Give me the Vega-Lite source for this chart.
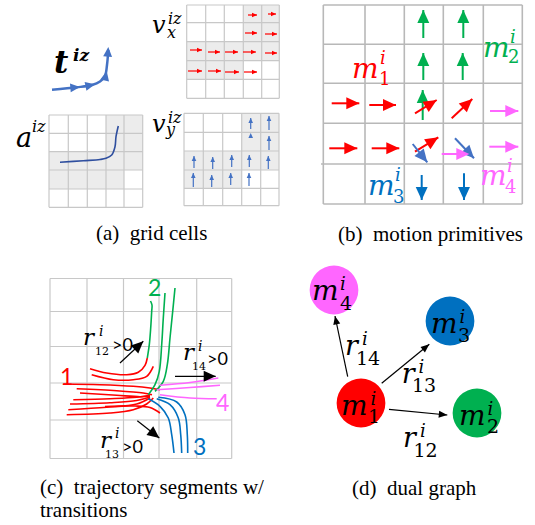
{
"$schema":"https://vega.github.io/schema/vega-lite/v6.json",
"width":535,"height":525,"padding":0,
"autosize":{"type":"fit","contains":"padding"},
"background":"white",
"config":{"view":{"stroke":null}},
"datasets":{
"sh":[
{"x":243.3,"x2":279.3,"y":5,"y2":41.7},{"x":186.7,"x2":279.3,"y":41.7,"y2":60.7},{"x":186.7,"x2":243.3,"y":60.7,"y2":79.3},
{"x":241.7,"x2":279,"y":113.3,"y2":151},{"x":184,"x2":279,"y":151,"y2":170},{"x":184,"x2":241.7,"y":170,"y2":188.3},
{"x":106,"x2":142.7,"y":115,"y2":151.7},{"x":49,"x2":142.7,"y":151.7,"y2":170},{"x":49,"x2":124,"y":170,"y2":189}
],
"gl":[
{"p":"a","x":186.7,"y":5,"x2":186.7,"y2":98.3},{"p":"a","x":205.7,"y":5,"x2":205.7,"y2":98.3},{"p":"a","x":224.3,"y":5,"x2":224.3,"y2":98.3},{"p":"a","x":243.3,"y":5,"x2":243.3,"y2":98.3},{"p":"a","x":261.7,"y":5,"x2":261.7,"y2":98.3},{"p":"a","x":279.3,"y":5,"x2":279.3,"y2":98.3},
{"p":"a","x":186.7,"y":5,"x2":279.3,"y2":5},{"p":"a","x":186.7,"y":22.7,"x2":279.3,"y2":22.7},{"p":"a","x":186.7,"y":41.7,"x2":279.3,"y2":41.7},{"p":"a","x":186.7,"y":60.7,"x2":279.3,"y2":60.7},{"p":"a","x":186.7,"y":79.3,"x2":279.3,"y2":79.3},{"p":"a","x":186.7,"y":98.3,"x2":279.3,"y2":98.3},
{"p":"a","x":184,"y":113.3,"x2":184,"y2":205.7},{"p":"a","x":203.3,"y":113.3,"x2":203.3,"y2":205.7},{"p":"a","x":222.7,"y":113.3,"x2":222.7,"y2":205.7},{"p":"a","x":241.7,"y":113.3,"x2":241.7,"y2":205.7},{"p":"a","x":260.7,"y":113.3,"x2":260.7,"y2":205.7},{"p":"a","x":279,"y":113.3,"x2":279,"y2":205.7},
{"p":"a","x":184,"y":113.3,"x2":279,"y2":113.3},{"p":"a","x":184,"y":132.3,"x2":279,"y2":132.3},{"p":"a","x":184,"y":151,"x2":279,"y2":151},{"p":"a","x":184,"y":170,"x2":279,"y2":170},{"p":"a","x":184,"y":188.3,"x2":279,"y2":188.3},{"p":"a","x":184,"y":205.7,"x2":279,"y2":205.7},
{"p":"a","x":49,"y":115,"x2":49,"y2":207.3},{"p":"a","x":68.3,"y":115,"x2":68.3,"y2":207.3},{"p":"a","x":87.3,"y":115,"x2":87.3,"y2":207.3},{"p":"a","x":106,"y":115,"x2":106,"y2":207.3},{"p":"a","x":124,"y":115,"x2":124,"y2":207.3},{"p":"a","x":142.7,"y":115,"x2":142.7,"y2":207.3},
{"p":"a","x":49,"y":115,"x2":142.7,"y2":115},{"p":"a","x":49,"y":133.3,"x2":142.7,"y2":133.3},{"p":"a","x":49,"y":151.7,"x2":142.7,"y2":151.7},{"p":"a","x":49,"y":170,"x2":142.7,"y2":170},{"p":"a","x":49,"y":189,"x2":142.7,"y2":189},{"p":"a","x":49,"y":207.3,"x2":142.7,"y2":207.3},
{"p":"b","x":323.3,"y":5,"x2":323.3,"y2":204},{"p":"b","x":365,"y":5,"x2":365,"y2":204},{"p":"b","x":404.3,"y":5,"x2":404.3,"y2":204},{"p":"b","x":443.3,"y":5,"x2":443.3,"y2":204},{"p":"b","x":483.3,"y":5,"x2":483.3,"y2":204},{"p":"b","x":522.3,"y":5,"x2":522.3,"y2":204},
{"p":"b","x":323.3,"y":5,"x2":522.3,"y2":5},{"p":"b","x":323.3,"y":44.3,"x2":522.3,"y2":44.3},{"p":"b","x":323.3,"y":83.3,"x2":522.3,"y2":83.3},{"p":"b","x":323.3,"y":123.3,"x2":522.3,"y2":123.3},{"p":"b","x":321,"y":164,"x2":522.3,"y2":164},{"p":"b","x":323.3,"y":204,"x2":522.3,"y2":204},
{"p":"c","x":50,"y":278.5,"x2":50,"y2":458.5},{"p":"c","x":87,"y":278.5,"x2":87,"y2":458.5},{"p":"c","x":123.5,"y":278.5,"x2":123.5,"y2":458.5},{"p":"c","x":159,"y":278.5,"x2":159,"y2":458.5},{"p":"c","x":196.7,"y":278.5,"x2":196.7,"y2":458.5},{"p":"c","x":231.7,"y":278.5,"x2":231.7,"y2":458.5},
{"p":"c","x":50,"y":278.5,"x2":231.7,"y2":278.5},{"p":"c","x":50,"y":311.5,"x2":231.7,"y2":311.5},{"p":"c","x":50,"y":346.5,"x2":231.7,"y2":346.5},{"p":"c","x":50,"y":383,"x2":231.7,"y2":383},{"p":"c","x":50,"y":420,"x2":231.7,"y2":420},{"p":"c","x":50,"y":458.5,"x2":231.7,"y2":458.5}
],
"ln":[
{"id":"t","o":1,"x":52,"y":89.7,"c":"bl"},{"id":"t","o":2,"x":77,"y":87.3,"c":"bl"},{"id":"t","o":3,"x":92,"y":85,"c":"bl"},{"id":"t","o":4,"x":100,"y":81.5,"c":"bl"},{"id":"t","o":5,"x":105,"y":76,"c":"bl"},{"id":"t","o":6,"x":107,"y":65,"c":"bl"},{"id":"t","o":7,"x":108.3,"y":50,"c":"bl"},
{"id":"a","o":1,"x":60,"y":162.3,"c":"ad"},{"id":"a","o":2,"x":83.3,"y":160.7,"c":"ad"},{"id":"a","o":3,"x":100,"y":159.5,"c":"ad"},{"id":"a","o":4,"x":106,"y":158.3,"c":"ad"},{"id":"a","o":5,"x":111.7,"y":155,"c":"ad"},{"id":"a","o":6,"x":115,"y":146.7,"c":"ad"},{"id":"a","o":7,"x":116,"y":136.7,"c":"ad"},{"id":"a","o":8,"x":118.3,"y":126,"c":"ad"},
{"id":"R1","o":1,"x":90,"y":368.7,"c":"r"},{"id":"R1","o":2,"x":106.7,"y":373,"c":"r"},{"id":"R1","o":3,"x":126.7,"y":374.7,"c":"r"},{"id":"R1","o":4,"x":138.3,"y":372.3,"c":"r"},{"id":"R1","o":5,"x":145,"y":365.3,"c":"r"},{"id":"R1","o":6,"x":147.3,"y":358,"c":"r"},
{"id":"R2","o":1,"x":91.7,"y":374.7,"c":"r"},{"id":"R2","o":2,"x":113.3,"y":379.7,"c":"r"},{"id":"R2","o":3,"x":133.3,"y":379.7,"c":"r"},{"id":"R2","o":4,"x":146.7,"y":376.3,"c":"r"},{"id":"R2","o":5,"x":153.3,"y":366.3,"c":"r"},
{"id":"R3","o":1,"x":63.3,"y":384,"c":"r"},{"id":"R3","o":2,"x":100,"y":384.7,"c":"r"},{"id":"R3","o":3,"x":133.3,"y":386.3,"c":"r"},{"id":"R3","o":4,"x":150,"y":388,"c":"r"},{"id":"R3","o":5,"x":160,"y":389.7,"c":"r"},
{"id":"R4","o":1,"x":76.7,"y":388.7,"c":"r"},{"id":"R4","o":2,"x":116.7,"y":390.7,"c":"r"},{"id":"R4","o":3,"x":143.3,"y":393,"c":"r"},{"id":"R4","o":4,"x":152,"y":394.7,"c":"r"},
{"id":"R5","o":1,"x":80,"y":393,"c":"r"},{"id":"R5","o":2,"x":116.7,"y":395.3,"c":"r"},{"id":"R5","o":3,"x":140,"y":396.7,"c":"r"},{"id":"R5","o":4,"x":150,"y":396.3,"c":"r"},
{"id":"R6","o":1,"x":73.3,"y":399.7,"c":"r"},{"id":"R6","o":2,"x":110,"y":398.7,"c":"r"},{"id":"R6","o":3,"x":136.7,"y":397.3,"c":"r"},{"id":"R6","o":4,"x":150,"y":395.3,"c":"r"},
{"id":"R7","o":1,"x":70,"y":404,"c":"r"},{"id":"R7","o":2,"x":110,"y":402.7,"c":"r"},{"id":"R7","o":3,"x":136.7,"y":400.5,"c":"r"},{"id":"R7","o":4,"x":150,"y":397,"c":"r"},
{"id":"R8","o":1,"x":68.3,"y":409.7,"c":"r"},{"id":"R8","o":2,"x":106.7,"y":407.3,"c":"r"},{"id":"R8","o":3,"x":136.7,"y":404,"c":"r"},{"id":"R8","o":4,"x":150,"y":398,"c":"r"},
{"id":"R9","o":1,"x":66.7,"y":414.7,"c":"r"},{"id":"R9","o":2,"x":110,"y":413,"c":"r"},{"id":"R9","o":3,"x":133.3,"y":409.7,"c":"r"},{"id":"R9","o":4,"x":146.7,"y":404,"c":"r"},{"id":"R9","o":5,"x":153.3,"y":398,"c":"r"},
{"id":"R10","o":1,"x":105,"y":406.5,"c":"r"},{"id":"R10","o":2,"x":135,"y":406,"c":"r"},{"id":"R10","o":3,"x":150,"y":407.5,"c":"r"},{"id":"R10","o":4,"x":160,"y":413,"c":"r"},
{"id":"G1","o":1,"x":147.3,"y":358,"c":"g"},{"id":"G1","o":2,"x":149.3,"y":344.7,"c":"g"},{"id":"G1","o":3,"x":150.7,"y":328,"c":"g"},{"id":"G1","o":4,"x":151.7,"y":311.3,"c":"g"},{"id":"G1","o":5,"x":152,"y":305,"c":"g"},{"id":"G1","o":6,"x":150.5,"y":301,"c":"g"},
{"id":"G2","o":1,"x":148.3,"y":394.7,"c":"g"},{"id":"G2","o":2,"x":155,"y":384.7,"c":"g"},{"id":"G2","o":3,"x":159.3,"y":371.3,"c":"g"},{"id":"G2","o":4,"x":161.7,"y":344.7,"c":"g"},{"id":"G2","o":5,"x":163.3,"y":318,"c":"g"},{"id":"G2","o":6,"x":165,"y":293,"c":"g"},
{"id":"G3","o":1,"x":155,"y":391.3,"c":"g"},{"id":"G3","o":2,"x":163.3,"y":381.3,"c":"g"},{"id":"G3","o":3,"x":167.3,"y":364.7,"c":"g"},{"id":"G3","o":4,"x":170,"y":338,"c":"g"},{"id":"G3","o":5,"x":172.7,"y":311.3,"c":"g"},{"id":"G3","o":6,"x":175,"y":288,"c":"g"},
{"id":"M1","o":1,"x":160,"y":385.3,"c":"m"},{"id":"M1","o":2,"x":190,"y":382.5,"c":"m"},{"id":"M1","o":3,"x":218.3,"y":378,"c":"m"},
{"id":"M2","o":1,"x":156.7,"y":389.7,"c":"m"},{"id":"M2","o":2,"x":190,"y":387.5,"c":"m"},{"id":"M2","o":3,"x":220,"y":385.3,"c":"m"},
{"id":"M3","o":1,"x":160,"y":394.7,"c":"m"},{"id":"M3","o":2,"x":190,"y":398,"c":"m"},{"id":"M3","o":3,"x":216.7,"y":398.7,"c":"m"},
{"id":"B1","o":1,"x":148.3,"y":398.7,"c":"b"},{"id":"B1","o":2,"x":160,"y":406.3,"c":"b"},{"id":"B1","o":3,"x":168.3,"y":418,"c":"b"},{"id":"B1","o":4,"x":171.7,"y":434.7,"c":"b"},{"id":"B1","o":5,"x":174,"y":453,"c":"b"},
{"id":"B2","o":1,"x":156.7,"y":398.7,"c":"b"},{"id":"B2","o":2,"x":170,"y":404.7,"c":"b"},{"id":"B2","o":3,"x":178.3,"y":418,"c":"b"},{"id":"B2","o":4,"x":180.7,"y":434.7,"c":"b"},{"id":"B2","o":5,"x":181.7,"y":453,"c":"b"},
{"id":"B3","o":1,"x":158.3,"y":397.3,"c":"b"},{"id":"B3","o":2,"x":176.7,"y":402,"c":"b"},{"id":"B3","o":3,"x":185,"y":414.7,"c":"b"},{"id":"B3","o":4,"x":187.3,"y":434.7,"c":"b"},{"id":"B3","o":5,"x":187.7,"y":453,"c":"b"}
],
"ar":[
{"p":"as","x":257,"y":15,"xs":248,"ys":15,"ang":90,"c":"r"},{"p":"as","x":276,"y":14,"xs":268,"ys":14,"ang":90,"c":"r"},
{"p":"as","x":257,"y":33,"xs":245,"ys":33,"ang":90,"c":"r"},{"p":"as","x":277,"y":34,"xs":265,"ys":34,"ang":90,"c":"r"},
{"p":"as","x":202,"y":50,"xs":190,"ys":50,"ang":90,"c":"r"},{"p":"as","x":220,"y":52,"xs":208,"ys":52,"ang":90,"c":"r"},{"p":"as","x":238,"y":52,"xs":225,"ys":52,"ang":90,"c":"r"},{"p":"as","x":256,"y":52,"xs":243,"ys":52,"ang":90,"c":"r"},{"p":"as","x":277,"y":53,"xs":265,"ys":53,"ang":90,"c":"r"},
{"p":"as","x":202,"y":71,"xs":188,"ys":71,"ang":90,"c":"r"},{"p":"as","x":221,"y":71,"xs":208,"ys":71,"ang":90,"c":"r"},{"p":"as","x":239,"y":72,"xs":225,"ys":72,"ang":90,"c":"r"},{"p":"as","x":257,"y":72,"xs":244,"ys":72,"ang":90,"c":"r"},
{"p":"as","x":250.7,"y":118,"xs":250.7,"ys":129,"ang":0,"c":"bl"},{"p":"as","x":269,"y":116,"xs":269,"ys":130,"ang":0,"c":"bl"},{"p":"as","x":250.7,"y":133,"xs":250.7,"ys":133,"ang":0,"c":"bl"},{"p":"as","x":269,"y":136,"xs":269,"ys":150,"ang":0,"c":"bl"},
{"p":"as","x":194,"y":156,"xs":194,"ys":168,"ang":0,"c":"bl"},{"p":"as","x":212.7,"y":157,"xs":212.7,"ys":169,"ang":0,"c":"bl"},{"p":"as","x":231.7,"y":155,"xs":231.7,"ys":167,"ang":0,"c":"bl"},{"p":"as","x":249.3,"y":155,"xs":249.3,"ys":167,"ang":0,"c":"bl"},{"p":"as","x":268.3,"y":156,"xs":268.3,"ys":169,"ang":0,"c":"bl"},
{"p":"as","x":193.3,"y":173,"xs":193.3,"ys":187,"ang":0,"c":"bl"},{"p":"as","x":211.7,"y":175,"xs":211.7,"ys":187,"ang":0,"c":"bl"},{"p":"as","x":230.7,"y":173,"xs":230.7,"ys":185,"ang":0,"c":"bl"},{"p":"as","x":249,"y":173,"xs":249,"ys":186,"ang":0,"c":"bl"},
{"p":"at","x":80,"y":87,"xs":80,"ys":87,"ang":85,"c":"bl"},{"p":"at","x":95,"y":84.3,"xs":95,"ys":84.3,"ang":78,"c":"bl"},{"p":"at","x":106.7,"y":71,"xs":106.7,"ys":71,"ang":12,"c":"bl"},{"p":"at","x":108.3,"y":47,"xs":108.3,"ys":47,"ang":4,"c":"bl"},
{"p":"b","x":423.3,"y":10,"xs":423.3,"ys":38,"ang":0,"c":"g"},{"p":"b","x":463.3,"y":10,"xs":463.3,"ys":38,"ang":0,"c":"g"},{"p":"b","x":423.3,"y":53,"xs":423.3,"ys":80,"ang":0,"c":"g"},{"p":"b","x":462.7,"y":53,"xs":462.7,"ys":80,"ang":0,"c":"g"},{"p":"b","x":422.7,"y":90,"xs":422.7,"ys":120,"ang":0,"c":"g"},
{"p":"b","x":359.3,"y":103.3,"xs":331.7,"ys":103.3,"ang":90,"c":"r"},{"p":"b","x":396,"y":105,"xs":369.3,"ys":105,"ang":90,"c":"r"},{"p":"b","x":357.3,"y":148.3,"xs":329.3,"ys":148.3,"ang":90,"c":"r"},{"p":"b","x":399.3,"y":148.3,"xs":371.7,"ys":148.3,"ang":90,"c":"r"},
{"p":"b","x":436.7,"y":100,"xs":415,"ys":113.3,"ang":58.5,"c":"r"},{"p":"b","x":472.3,"y":99,"xs":451.7,"ys":118.3,"ang":47,"c":"r"},{"p":"b","x":438.3,"y":137.3,"xs":415,"ys":151.7,"ang":58,"c":"r"},
{"p":"b","x":427.3,"y":162.3,"xs":412.7,"ys":144,"ang":141,"c":"bl"},{"p":"b","x":474,"y":158.3,"xs":455,"ys":138.3,"ang":136.5,"c":"bl"},
{"p":"b","x":421.7,"y":200,"xs":421.7,"ys":175,"ang":180,"c":"b"},{"p":"b","x":464,"y":200,"xs":464,"ys":173.3,"ang":180,"c":"b"},
{"p":"b","x":518.3,"y":111,"xs":490,"ys":111,"ang":90,"c":"m"},{"p":"b","x":518.3,"y":146.7,"xs":489.3,"ys":146.7,"ang":90,"c":"m"},{"p":"b","x":469.3,"y":154,"xs":441.7,"ys":154,"ang":90,"c":"m"},
{"p":"c","x":143.3,"y":341.3,"xs":120,"ys":363,"ang":47,"c":"k"},{"p":"c","x":215.7,"y":376.3,"xs":175,"ys":376.3,"ang":90,"c":"k"},{"p":"c","x":159.3,"y":438,"xs":137.3,"ys":420.7,"ang":128,"c":"k"},
{"p":"d","x":335,"y":316,"xs":347.7,"ys":376.7,"ang":-12,"c":"k"},{"p":"d","x":429.3,"y":344.3,"xs":381.7,"ys":383.3,"ang":51,"c":"k"},{"p":"d","x":447.3,"y":415,"xs":389,"ys":409.3,"ang":95.6,"c":"k"}
],
"ci":[
{"x":334,"y":290,"c":"m"},{"x":450,"y":321,"c":"b"},{"x":361,"y":403,"c":"r"},{"x":477,"y":413,"c":"g"}
],
"tx":[
{"k":"tb","x":54,"y":73,"t":"t","c":"k"},{"k":"tbs","x":73,"y":61,"t":"iz","c":"k"},
{"k":"av","x":152,"y":33,"t":"v","c":"k"},{"k":"as","x":168,"y":24,"t":"iz","c":"k"},{"k":"as","x":167,"y":38,"t":"x","c":"k"},
{"k":"av","x":152,"y":131.5,"t":"v","c":"k"},{"k":"as","x":168,"y":123,"t":"iz","c":"k"},{"k":"as","x":166,"y":135,"t":"y","c":"k"},
{"k":"aa","x":16,"y":146.5,"t":"a","c":"k"},{"k":"as","x":32,"y":131.5,"t":"iz","c":"k"},
{"k":"bm","x":352,"y":78.3,"t":"m","c":"r"},{"k":"bs","x":380,"y":64,"t":"i","c":"r"},{"k":"bd","x":379,"y":85,"t":"1","c":"r"},
{"k":"bm","x":483,"y":56.7,"t":"m","c":"g"},{"k":"bs","x":510,"y":43,"t":"i","c":"g"},{"k":"bd","x":508,"y":63.3,"t":"2","c":"g"},
{"k":"bm","x":368,"y":195,"t":"m","c":"b"},{"k":"bs","x":395,"y":181,"t":"i","c":"b"},{"k":"bd","x":393,"y":203,"t":"3","c":"b"},
{"k":"bm","x":480,"y":185,"t":"m","c":"m"},{"k":"bs","x":507,"y":172,"t":"i","c":"m"},{"k":"bd","x":505,"y":193,"t":"4","c":"m"},
{"k":"cn","x":60,"y":384.5,"t":"1","c":"r"},{"k":"cn","x":148,"y":296,"t":"2","c":"g"},{"k":"cn","x":193,"y":455,"t":"3","c":"b"},{"k":"cn","x":216,"y":411,"t":"4","c":"m"},
{"k":"cr","x":83,"y":345,"t":"r","c":"k"},{"k":"cs","x":99,"y":336,"t":"i","c":"k"},{"k":"cd","x":95,"y":355,"t":"12","c":"k"},{"k":"cg","x":112,"y":351,"t":">0","c":"k"},
{"k":"cr","x":183,"y":360,"t":"r","c":"k"},{"k":"cs","x":198,"y":351,"t":"i","c":"k"},{"k":"cd","x":192,"y":370,"t":"14","c":"k"},{"k":"cg","x":207,"y":365,"t":">0","c":"k"},
{"k":"cr","x":100,"y":448,"t":"r","c":"k"},{"k":"cs","x":115,"y":438,"t":"i","c":"k"},{"k":"cd","x":105,"y":458,"t":"13","c":"k"},{"k":"cg","x":122,"y":453,"t":">0","c":"k"},
{"k":"dm","x":341,"y":415,"t":"m","c":"k"},{"k":"ds","x":370.5,"y":405,"t":"i","c":"k"},{"k":"dd","x":368,"y":423,"t":"1","c":"k"},
{"k":"dm","x":312,"y":300,"t":"m","c":"k"},{"k":"ds","x":340,"y":290,"t":"i","c":"k"},{"k":"dd","x":340,"y":310,"t":"4","c":"k"},
{"k":"dm","x":431,"y":333,"t":"m","c":"k"},{"k":"ds","x":459.5,"y":323,"t":"i","c":"k"},{"k":"dd","x":458,"y":341.5,"t":"3","c":"k"},
{"k":"dm","x":459,"y":425,"t":"m","c":"k"},{"k":"ds","x":487.5,"y":415,"t":"i","c":"k"},{"k":"dd","x":487,"y":433,"t":"2","c":"k"},
{"k":"dr","x":345,"y":355,"t":"r","c":"k"},{"k":"ds","x":362,"y":345,"t":"i","c":"k"},{"k":"dd","x":356,"y":365,"t":"14","c":"k"},
{"k":"dr","x":401.7,"y":383.3,"t":"r","c":"k"},{"k":"ds","x":418.5,"y":373,"t":"i","c":"k"},{"k":"dd","x":412,"y":391.7,"t":"13","c":"k"},
{"k":"dr","x":403,"y":446.7,"t":"r","c":"k"},{"k":"ds","x":420,"y":436.7,"t":"i","c":"k"},{"k":"dd","x":413.5,"y":456.7,"t":"12","c":"k"},
{"k":"cap","x":96,"y":240,"t":"(a)\u00a0 grid cells","c":"k"},
{"k":"cap","x":338,"y":241,"t":"(b)\u00a0 motion primitives","c":"k"},
{"k":"cap","x":40,"y":494,"t":"(c)\u00a0 trajectory segments w/","c":"k"},
{"k":"cap","x":40,"y":517,"t":"transitions","c":"k"},
{"k":"cap","x":352,"y":495,"t":"(d)\u00a0 dual graph","c":"k"}
]
},
"encoding":{
"x":{"field":"x","type":"quantitative","scale":{"domain":[0,535],"nice":false,"zero":false},"axis":null},
"y":{"field":"y","type":"quantitative","scale":{"domain":[0,525],"nice":false,"zero":false,"reverse":true},"axis":null},
"color":{"field":"c","type":"nominal","scale":{"domain":["k","r","g","b","m","bl","ad"],"range":["#000000","#ff0000","#00b050","#0070c0","#ff66ff","#4472c4","#2f4f9f"]},"legend":null}
},
"layer":[
{"data":{"name":"sh"},"mark":{"type":"rect","fill":"#ececec"},"encoding":{"x2":{"field":"x2"},"y2":{"field":"y2"},"color":{"value":"#ececec"}}},
{"data":{"name":"gl"},"transform":[{"filter":"datum.p!=='b'"}],"mark":{"type":"rule","strokeWidth":1.2},"encoding":{"x2":{"field":"x2"},"y2":{"field":"y2"},"color":{"value":"#c8c8c8"}}},
{"data":{"name":"gl"},"transform":[{"filter":"datum.p==='b'"}],"mark":{"type":"rule","strokeWidth":1.6},"encoding":{"x2":{"field":"x2"},"y2":{"field":"y2"},"color":{"value":"#b8b8b8"}}},
{"data":{"name":"ln"},"transform":[{"filter":"datum.id!=='t'"}],"mark":{"type":"line","interpolate":"catmull-rom","strokeWidth":1.6},"encoding":{"detail":{"field":"id"},"order":{"field":"o","type":"quantitative"}}},
{"data":{"name":"ln"},"transform":[{"filter":"datum.id==='t'"}],"mark":{"type":"line","interpolate":"catmull-rom","strokeWidth":2.5},"encoding":{"detail":{"field":"id"},"order":{"field":"o","type":"quantitative"}}},
{"data":{"name":"ar"},"transform":[{"filter":"datum.p!=='b'"}],"mark":{"type":"rule","strokeWidth":1.2},"encoding":{"x2":{"field":"xs"},"y2":{"field":"ys"}}},
{"data":{"name":"ar"},"transform":[{"filter":"datum.p==='b'"}],"mark":{"type":"rule","strokeWidth":2},"encoding":{"x2":{"field":"xs"},"y2":{"field":"ys"}}},
{"data":{"name":"ar"},"transform":[{"filter":"datum.p==='as'"}],"mark":{"type":"point","shape":"M0,0L0.55,1.2L-0.55,1.2Z","filled":true,"opacity":1,"size":70,"strokeWidth":0},"encoding":{"angle":{"field":"ang","type":"quantitative","scale":null}}},
{"data":{"name":"ar"},"transform":[{"filter":"datum.p==='at'"}],"mark":{"type":"point","shape":"M0,0L0.55,1.2L-0.55,1.2Z","filled":true,"opacity":1,"size":260,"strokeWidth":0},"encoding":{"angle":{"field":"ang","type":"quantitative","scale":null}}},
{"data":{"name":"ar"},"transform":[{"filter":"datum.p==='b'"}],"mark":{"type":"point","shape":"M0,0L0.55,1.2L-0.55,1.2Z","filled":true,"opacity":1,"size":470,"strokeWidth":0},"encoding":{"angle":{"field":"ang","type":"quantitative","scale":null}}},
{"data":{"name":"ar"},"transform":[{"filter":"datum.p==='c'"}],"mark":{"type":"point","shape":"M0,0L0.55,1.2L-0.55,1.2Z","filled":true,"opacity":1,"size":400,"strokeWidth":0},"encoding":{"angle":{"field":"ang","type":"quantitative","scale":null}}},
{"data":{"name":"ar"},"transform":[{"filter":"datum.p==='d'"}],"mark":{"type":"point","shape":"M0,0L0.5,1.2L-0.5,1.2Z","filled":true,"opacity":1,"size":200,"strokeWidth":0},"encoding":{"angle":{"field":"ang","type":"quantitative","scale":null}}},
{"data":{"name":"ci"},"mark":{"type":"point","shape":"circle","filled":true,"opacity":1,"size":2376,"strokeWidth":0}},
{"data":{"name":"tx"},"transform":[{"filter":"datum.k==='tb'"}],"mark":{"type":"text","align":"left","baseline":"alphabetic","font":"DejaVu Serif","fontStyle":"italic","fontWeight":"bold","fontSize":31},"encoding":{"text":{"field":"t"}}},
{"data":{"name":"tx"},"transform":[{"filter":"datum.k==='tbs'"}],"mark":{"type":"text","align":"left","baseline":"alphabetic","font":"DejaVu Serif","fontStyle":"italic","fontWeight":"bold","fontSize":17},"encoding":{"text":{"field":"t"}}},
{"data":{"name":"tx"},"transform":[{"filter":"datum.k==='av'"}],"mark":{"type":"text","align":"left","baseline":"alphabetic","font":"DejaVu Serif","fontStyle":"italic","fontSize":24},"encoding":{"text":{"field":"t"}}},
{"data":{"name":"tx"},"transform":[{"filter":"datum.k==='aa'"}],"mark":{"type":"text","align":"left","baseline":"alphabetic","font":"DejaVu Serif","fontStyle":"italic","fontSize":27},"encoding":{"text":{"field":"t"}}},
{"data":{"name":"tx"},"transform":[{"filter":"datum.k==='as'"}],"mark":{"type":"text","align":"left","baseline":"alphabetic","font":"DejaVu Serif","fontStyle":"italic","fontSize":16},"encoding":{"text":{"field":"t"}}},
{"data":{"name":"tx"},"transform":[{"filter":"datum.k==='bm'"}],"mark":{"type":"text","align":"left","baseline":"alphabetic","font":"DejaVu Serif","fontStyle":"italic","fontSize":28},"encoding":{"text":{"field":"t"}}},
{"data":{"name":"tx"},"transform":[{"filter":"datum.k==='bs'"}],"mark":{"type":"text","align":"left","baseline":"alphabetic","font":"DejaVu Serif","fontStyle":"italic","fontSize":18},"encoding":{"text":{"field":"t"}}},
{"data":{"name":"tx"},"transform":[{"filter":"datum.k==='bd'"}],"mark":{"type":"text","align":"left","baseline":"alphabetic","font":"DejaVu Serif","fontSize":18},"encoding":{"text":{"field":"t"}}},
{"data":{"name":"tx"},"transform":[{"filter":"datum.k==='cn'"}],"mark":{"type":"text","align":"left","baseline":"alphabetic","font":"Lato","fontSize":23},"encoding":{"text":{"field":"t"}}},
{"data":{"name":"tx"},"transform":[{"filter":"datum.k==='cr'"}],"mark":{"type":"text","align":"left","baseline":"alphabetic","font":"DejaVu Serif","fontStyle":"italic","fontSize":23},"encoding":{"text":{"field":"t"}}},
{"data":{"name":"tx"},"transform":[{"filter":"datum.k==='cs'"}],"mark":{"type":"text","align":"left","baseline":"alphabetic","font":"DejaVu Serif","fontStyle":"italic","fontSize":14},"encoding":{"text":{"field":"t"}}},
{"data":{"name":"tx"},"transform":[{"filter":"datum.k==='cd'"}],"mark":{"type":"text","align":"left","baseline":"alphabetic","font":"DejaVu Serif","fontSize":11},"encoding":{"text":{"field":"t"}}},
{"data":{"name":"tx"},"transform":[{"filter":"datum.k==='cg'"}],"mark":{"type":"text","align":"left","baseline":"alphabetic","font":"Lato","fontSize":18},"encoding":{"text":{"field":"t"}}},
{"data":{"name":"tx"},"transform":[{"filter":"datum.k==='dm'"}],"mark":{"type":"text","align":"left","baseline":"alphabetic","font":"DejaVu Serif","fontStyle":"italic","fontSize":28},"encoding":{"text":{"field":"t"}}},
{"data":{"name":"tx"},"transform":[{"filter":"datum.k==='dr'"}],"mark":{"type":"text","align":"left","baseline":"alphabetic","font":"DejaVu Serif","fontStyle":"italic","fontSize":27},"encoding":{"text":{"field":"t"}}},
{"data":{"name":"tx"},"transform":[{"filter":"datum.k==='ds'"}],"mark":{"type":"text","align":"left","baseline":"alphabetic","font":"DejaVu Serif","fontStyle":"italic","fontSize":18},"encoding":{"text":{"field":"t"}}},
{"data":{"name":"tx"},"transform":[{"filter":"datum.k==='dd'"}],"mark":{"type":"text","align":"left","baseline":"alphabetic","font":"DejaVu Serif","fontSize":19},"encoding":{"text":{"field":"t"}}},
{"data":{"name":"tx"},"transform":[{"filter":"datum.k==='cap'"}],"mark":{"type":"text","align":"left","baseline":"alphabetic","font":"Liberation Serif","fontSize":21},"encoding":{"text":{"field":"t"}}}
]
}
